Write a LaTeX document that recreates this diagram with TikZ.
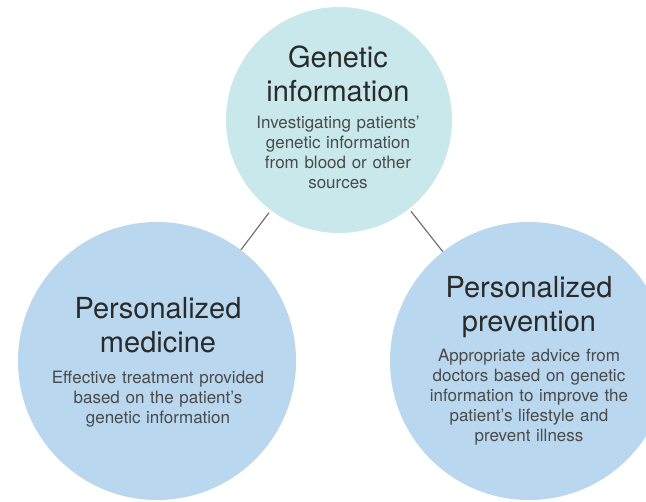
\documentclass[tikz,border=0pt]{standalone}
\usepackage{fontspec}
\setmainfont{TeX Gyre Heros}
\definecolor{topc}{HTML}{C9E8EC}
\definecolor{lowc}{HTML}{B9D7EF}
\definecolor{titlec}{HTML}{2A2A2A}
\definecolor{bodyc}{HTML}{4A4A4A}
\definecolor{linec}{HTML}{6A6A6A}
\tikzset{
  bubble/.style={circle, inner sep=0pt, draw=none},
  titletext/.style={text width=280pt, align=center, anchor=base, inner sep=0pt,
    text=titlec, font=\fontsize{29}{34}\selectfont},
  bodytext/.style={text width=280pt, align=center, anchor=base, inner sep=0pt,
    text=bodyc, font=\fontsize{17}{20}\selectfont},
  conn/.style={draw=linec, line width=1.1pt, shorten <=3pt}
}
\begin{document}
\begin{tikzpicture}[x=1pt,y=-1pt]
\useasboundingbox (0,0) rectangle (646,502);
\fill[white] (0,0) rectangle (646,502);
\node[bubble, fill=topc, minimum size=226pt] (gen) at (339,120) {};
\node[bubble, fill=lowc, minimum size=278pt] (med) at (157,361) {};
\node[bubble, fill=lowc, minimum size=278pt] (prev) at (529,361) {};
\draw[conn] (gen) -- (med);
\draw[conn] (gen) -- (prev);
\node[titletext] (gent) at (338,68) {Genetic\\information};
\node[bodytext] (genb) at (338,129) {Investigating patients'\\genetic information\\from blood or other\\sources};
\node[titletext] (medt) at (158,319) {Personalized\\medicine};
\node[bodytext] (medb) at (158,384) {Effective treatment provided\\based on the patient's\\genetic information};
\node[titletext] (prevt) at (529,298) {Personalized\\prevention};
\node[bodytext] (prevb) at (529,362) {Appropriate advice from\\doctors based on genetic\\information to improve the\\patient's lifestyle and\\prevent illness};
\end{tikzpicture}
\end{document}
